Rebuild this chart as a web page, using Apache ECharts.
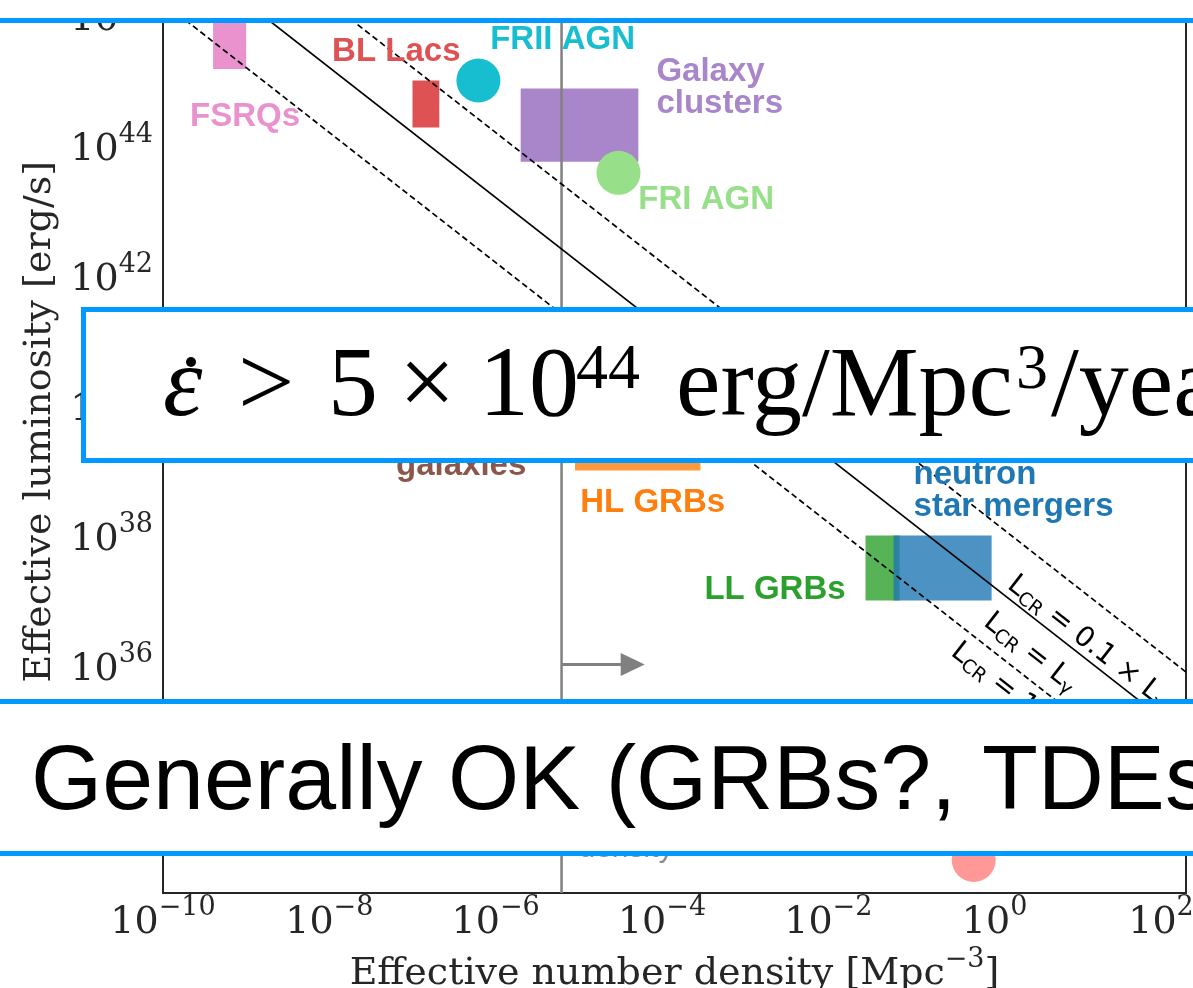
<!DOCTYPE html>
<html><head><meta charset="utf-8">
<script src="https://cdn.jsdelivr.net/npm/echarts@6/dist/echarts.min.js"></script>
<style>html,body{margin:0;padding:0;background:#fff}#c{width:1193px;height:988px}</style>
</head><body><div id="c"></div>
<script>
// ---------- data ----------
// boxes: source classes drawn as rectangles [n range, L range]
const rectNames  = ['FSRQs', 'BL Lacs', 'Galaxy clusters', 'HL GRBs', 'LL GRBs', 'Neutron star mergers'];
const rectNMin   = [4e-10, 1e-7,   2e-6,   9e-6,   0.028, 0.061];
const rectNMax   = [1e-9,  2.1e-7, 5.2e-5, 2.9e-4, 0.072, 0.92];
const rectLMin   = [1.5e45, 1.9e44, 5.6e43, 1e39, 1e37, 1e37];
const rectLMax   = [1e46,   1e45,   7.5e44, 1e40, 1e38, 1e38];
const rectColors = ['#e377c2', '#d62728', '#9467bd', '#ff7f0e', '#2ca02c', '#1f77b4'];

// point-like source classes (circles)
const circleNames  = ['FRII AGN', 'FRI AGN', 'TDEs'];
const circleN      = [6.2e-7, 3e-5, 0.56];
const circleL      = [1e45, 3.8e43, 1.02e33];
const circleColors = ['#17becf', '#98df8a', '#ff9896'];

// required emissivity: 5e44 erg/Mpc^3/yr -> erg/s/Mpc^3
const epsDot = 5e44 / 3.156e7;
const lineFactors = [0.1, 1, 10];          // L_CR = factor x L_gamma
const lineTexts = ['0.1 \u00d7 ', '', '10 \u00d7 '];
const lineLabelN = [2.05, 1.06, 0.43];
const lineLabelL = [3.05e37, 8.2e36, 2.85e36];

// minimum source density marker
const minDensity = 6.2e-6;
const arrowEndDensity = 6.2e-5;
const arrowL = 1.04e36;

// axis ranges and ticks
const xRange = [1e-10, 200];
const yRange = [Math.pow(10, 32.5), 1e47];
const xTicks = [1e-10, 1e-8, 1e-6, 1e-4, 1e-2, 1, 100];
const yTicks = [1e34, 1e36, 1e38, 1e40, 1e42, 1e44, 1e46];

// text annotations (anchor in data units)
const annoText  = ['FSRQs', 'BL Lacs', 'FRII AGN', 'Galaxy\nclusters', 'FRI AGN', 'Starburst\ngalaxies', 'HL GRBs', 'neutron\nstar mergers', 'LL GRBs', 'Minimum\ndensity'];
const annoN     = [2.11e-10, 1.08e-8, 8.6e-7, 8.57e-5, 5.2e-5, 3.85e-7, 1.04e-5, 0.106, 3.24e-4, 9.9e-6];
const annoL     = [2.74e44, 2.74e45, 4.2e45, 7.7e44, 1.45e43, 2.1e39, 3.16e38, 4.84e38, 1.45e37, 2.7e33];
const annoColor = ['#e992ce', '#de5253', '#17becf', '#a985ca', '#98df8a', '#8c564b', '#ff7f0e', '#1f77b4', '#2ca02c', '#8a8a8a'];
const annoAlign = ['left', 'left', 'left', 'left', 'left', 'center', 'left', 'left', 'left', 'left'];
const annoWeight = ['bold', 'bold', 'bold', 'bold', 'bold', 'bold', 'bold', 'bold', 'bold', 'normal'];

// ---------- chart ----------
const chart = echarts.init(document.getElementById('c'), null, {renderer: 'canvas'});
const ink = '#262626';
const serif = '"DejaVu Serif", serif';

function expLabel(v) {
  const e = Math.round(Math.log10(v));
  return '{b|10}{s|' + (e < 0 ? '\u2212' + (-e) : String(e)) + '}';
}
const tickRich = {
  b: {fontFamily: serif, fontSize: 38, color: ink, lineHeight: 48, verticalAlign: 'bottom'},
  s: {fontFamily: serif, fontSize: 27, color: ink, lineHeight: 28, verticalAlign: 'top'}
};

const series = [];

// rectangles
series.push({
  type: 'custom', z: 2, silent: true,
  data: rectNames.map((_, i) => [rectNMin[i], rectNMax[i], rectLMin[i], rectLMax[i]]),
  encode: {x: [0, 1], y: [2, 3]},
  renderItem: function (params, api) {
    const p0 = api.coord([api.value(0), api.value(3)]);
    const p1 = api.coord([api.value(1), api.value(2)]);
    return {type: 'rect', shape: {x: p0[0], y: p0[1], width: p1[0] - p0[0], height: p1[1] - p0[1]},
            style: {fill: rectColors[params.dataIndex], opacity: 0.8}};
  }
});

// circles
series.push({
  type: 'scatter', z: 3, silent: true, symbolSize: 44,
  data: circleNames.map((name, i) => ({name: name, value: [circleN[i], circleL[i]], itemStyle: {color: circleColors[i], opacity: 1}}))
});

// minimum density vertical line
series.push({
  type: 'line', z: 3, silent: true, symbol: 'none',
  data: [[minDensity, yRange[0]], [minDensity, yRange[1]]],
  lineStyle: {color: '#808080', width: 2.5}
});

// arrow
series.push({
  type: 'custom', z: 3, silent: true,
  data: [[minDensity, arrowEndDensity, arrowL]],
  encode: {x: [0, 1], y: 2},
  renderItem: function (params, api) {
    const a = api.coord([api.value(0), api.value(2)]);
    const b = api.coord([api.value(1), api.value(2)]);
    const head = 24, half = 11.5;
    return {type: 'group', children: [
      {type: 'line', shape: {x1: a[0], y1: a[1], x2: b[0] - head + 2, y2: b[1]}, style: {stroke: '#808080', lineWidth: 3}},
      {type: 'polygon', shape: {points: [[b[0], b[1]], [b[0] - head, b[1] - half], [b[0] - head, b[1] + half]]}, style: {fill: '#808080'}}
    ]};
  }
});

// L_CR lines
lineFactors.forEach(function (f) {
  series.push({
    type: 'line', z: 4, silent: true, symbol: 'none', clip: true,
    data: xRange.map(n => [n, epsDot / (f * n)]),
    lineStyle: {color: '#000', width: 1.7, type: f === 1 ? 'solid' : [6, 3.5]}
  });
});

// line labels (rotated along lines)
series.push({
  type: 'custom', z: 5, silent: true,
  data: lineFactors.map((f, i) => [lineLabelN[i], lineLabelL[i]]),
  renderItem: function (params, api) {
    const p = api.coord([api.value(0), api.value(1)]);
    const i = params.dataIndex;
    return {type: 'text', x: p[0], y: p[1], rotation: -Math.atan2(65, 83.1),
      style: {text: '{m|L}{sub|CR}{m| = ' + lineTexts[i] + 'L}{sub|\u03b3}',
        align: 'left', verticalAlign: 'top',
        rich: {
          m: {fontFamily: '"DejaVu Sans"', fontSize: 28, lineHeight: 32, fill: '#000', verticalAlign: 'middle'},
          sub: {fontFamily: '"DejaVu Sans"', fontSize: 19, lineHeight: 15, fill: '#000', verticalAlign: 'bottom'}
        }}};
  }
});

// annotations
series.push({
  type: 'custom', z: 6, silent: true,
  data: annoText.map((t, i) => [annoN[i], annoL[i]]),
  renderItem: function (params, api) {
    const p = api.coord([api.value(0), api.value(1)]);
    const i = params.dataIndex;
    return {type: 'text', x: p[0], y: p[1],
      style: {text: annoText[i], fill: annoColor[i], fontSize: annoWeight[i] === 'bold' ? 33 : 30,
        fontWeight: annoWeight[i], fontFamily: '"Liberation Sans", Arial, sans-serif',
        align: annoAlign[i], verticalAlign: 'middle', lineHeight: 32}};
  }
});

const blue = '#0099ff';
const serifT = '"Liberation Serif", serif';
const option = {
  animation: false,
  backgroundColor: '#ffffff',
  grid: {left: 163, right: 7, top: -49.5, bottom: 95, show: true, borderColor: ink, borderWidth: 2,
         backgroundColor: 'transparent', outerBoundsMode: 'none', containLabel: false},
  xAxis: {
    type: 'log', logBase: 10, min: xRange[0], max: xRange[1],
    axisLine: {show: false}, axisTick: {show: false}, splitLine: {show: false},
    axisLabel: {customValues: xTicks, formatter: expLabel, margin: 1, rich: tickRich},
    name: '{n|Effective number density [Mpc}{s|\u22123}{n|]}',
    nameLocation: 'middle', nameGap: 46,
    nameTextStyle: {rich: {
      n: {fontFamily: serif, fontSize: 38, color: ink, lineHeight: 46, verticalAlign: 'bottom'},
      s: {fontFamily: serif, fontSize: 27, color: ink, lineHeight: 26, verticalAlign: 'top'}
    }}
  },
  yAxis: {
    type: 'log', logBase: 10, min: yRange[0], max: yRange[1],
    axisLine: {show: false}, axisTick: {show: false}, splitLine: {show: false},
    axisLabel: {customValues: yTicks, formatter: expLabel, margin: 10, rich: tickRich},
    name: 'Effective luminosity [erg/s]',
    nameLocation: 'middle', nameGap: 95,
    nameTextStyle: {fontFamily: serif, fontSize: 38, color: ink}
  },
  series: series,
  graphic: {elements: [
    {type: 'rect', z: 100, silent: true, shape: {x: -10, y: -60, width: 1220, height: 80.5}, style: {fill: '#fff', stroke: blue, lineWidth: 5}},
    {type: 'rect', z: 100, silent: true, shape: {x: 83.5, y: 309.5, width: 1200, height: 151}, style: {fill: '#fff', stroke: blue, lineWidth: 5}},
    {type: 'text', z: 101, silent: true, x: 163, y: 339, style: {
      text: '{e|\u03b5}{gt|>}{five|5}{x|\u00d7}{ten|10}{s44|44}{u|erg/Mpc}{s3|3}{u2|/year}',
      align: 'left', verticalAlign: 'top',
      rich: {
        e: {fontFamily: serifT, fontStyle: 'italic', fontSize: 100, lineHeight: 100, width: 75, fill: '#000'},
        gt: {fontFamily: serifT, fontSize: 100, lineHeight: 100, width: 90, fill: '#000'},
        five: {fontFamily: serifT, fontSize: 100, lineHeight: 100, width: 71, fill: '#000'},
        x: {fontFamily: serifT, fontSize: 100, lineHeight: 100, width: 80, fill: '#000'},
        ten: {fontFamily: serifT, fontSize: 100, lineHeight: 100, width: 97, fill: '#000'},
        s44: {fontFamily: serifT, fontSize: 64, lineHeight: 40, width: 100, verticalAlign: 'top', fill: '#000'},
        u: {fontFamily: serifT, fontSize: 100, lineHeight: 100, width: 340, fill: '#000'},
        s3: {fontFamily: serifT, fontSize: 64, lineHeight: 40, width: 35, verticalAlign: 'top', fill: '#000'},
        u2: {fontFamily: serifT, fontSize: 100, lineHeight: 100, fill: '#000'}
      }}},
    // the dot of the time derivative above epsilon
    {type: 'circle', z: 101, silent: true, shape: {cx: 191, cy: 362, r: 5}, style: {fill: '#000'}},
    {type: 'rect', z: 100, silent: true, shape: {x: -10, y: 701.5, width: 1220, height: 152}, style: {fill: '#fff', stroke: blue, lineWidth: 5}},
    {type: 'text', z: 101, silent: true, x: 31, y: 784, style: {
      text: 'Generally OK (GRBs?, TDEs?)', fill: '#000', fontFamily: '"Liberation Sans", Arial, sans-serif', fontSize: 91.5,
      align: 'left', verticalAlign: 'middle'}}
  ]}
};
chart.setOption(option);
</script>
</body></html>
